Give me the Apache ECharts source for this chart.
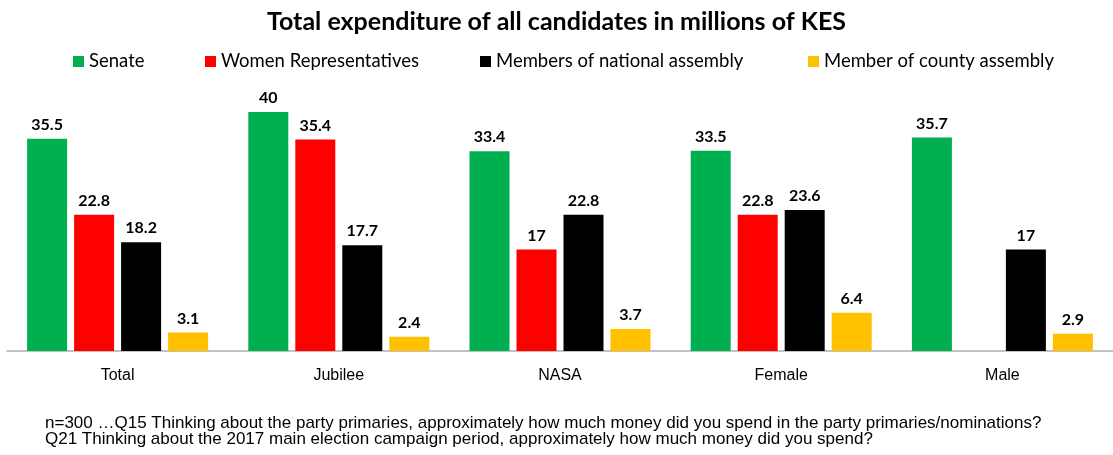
<!DOCTYPE html>
<html>
<head>
<meta charset="utf-8">
<script src="https://cdn.jsdelivr.net/npm/echarts@6/dist/echarts.min.js"></script>
<style>html,body{margin:0;padding:0;background:#fff}#c{width:1113px;height:455px}</style>
</head>
<body>
<div id="c"></div>
<script>
const categories = ['Total', 'Jubilee', 'NASA', 'Female', 'Male'];
const seriesNames = ['Senate', 'Women Representatives', 'Members of national assembly', 'Member of county assembly'];
const senate = [35.5, 40, 33.4, 33.5, 35.7];
const womenReps = [22.8, 35.4, 17, 22.8, null];
const nationalAssembly = [18.2, 17.7, 22.8, 23.6, 17];
const countyAssembly = [3.1, 2.4, 3.7, 6.4, 2.9];
const titleText = 'Total expenditure of all candidates in millions of KES';
const footnoteLines = [
  'n=300 \u2026Q15 Thinking about the party primaries, approximately how much money did you spend in the party primaries/nominations?',
  'Q21 Thinking about the 2017 main election campaign period, approximately how much money did you spend?'
];

const colors = ['#00B050', '#FF0000', '#000000', '#FFC000'];
const values = [senate, womenReps, nationalAssembly, countyAssembly];
const legendLefts = [73, 205, 480, 808];
const labelFont = 'Lato, "Liberation Sans", sans-serif';

const chart = echarts.init(document.getElementById('c'));
chart.setOption({
  animation: false,
  color: colors,
  title: [
    {
      text: titleText, left: 'center', top: 4,
      textStyle: { fontFamily: labelFont, fontWeight: 'bold', fontSize: 25, color: '#000' }
    },
    {
      text: footnoteLines.join('\n'), left: 40, top: 410,
      textStyle: { fontFamily: '"Liberation Sans", Arial, sans-serif', fontWeight: 'normal', fontSize: 17, lineHeight: 16, color: '#000' }
    }
  ],
  legend: seriesNames.map((n, i) => ({
    data: [n], left: legendLefts[i], top: 52, padding: 0,
    icon: 'rect', itemWidth: 11, itemHeight: 11, itemGap: 5,
    textStyle: { fontFamily: labelFont, fontSize: 18.5, color: '#000', padding: [0, 0, 0, 0] }
  })),
  grid: { left: 7, right: 0, top: 82, bottom: 104 },
  xAxis: {
    type: 'category', data: categories,
    axisLine: { lineStyle: { color: '#AFAFAF', width: 1.5 } },
    axisTick: { show: false },
    axisLabel: { margin: 17, fontFamily: '"Liberation Sans", Arial, sans-serif', fontSize: 16, color: '#000' }
  },
  yAxis: { type: 'value', min: 0, max: 45, show: false, splitLine: { show: false } },
  series: seriesNames.map((n, i) => ({
    name: n, type: 'bar', data: values[i],
    barWidth: 40, barGap: '17.5%',
    itemStyle: { color: colors[i] },
    label: {
      show: true, position: 'top', distance: 6,
      fontFamily: labelFont, fontWeight: 'bold', fontSize: 16, color: '#000'
    }
  }))
});
</script>
</body>
</html>
